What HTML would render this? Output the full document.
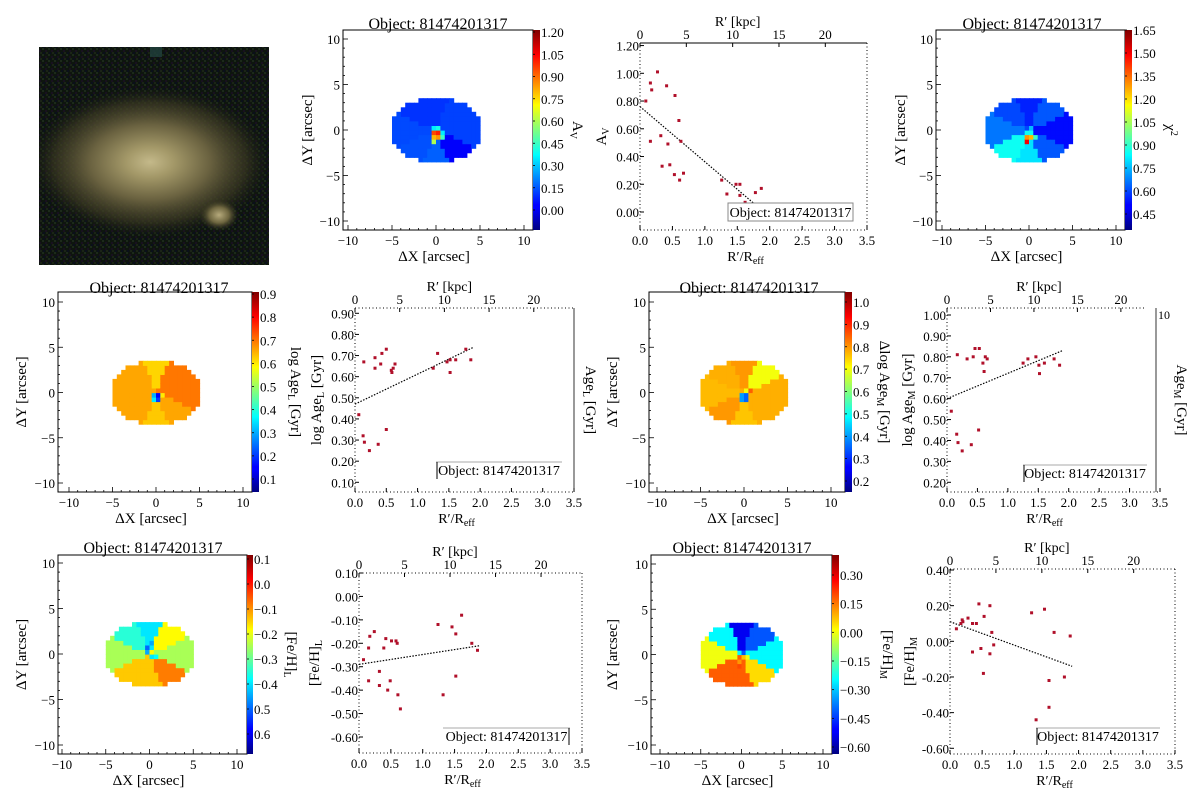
<!DOCTYPE html>
<html><head><meta charset="utf-8"><style>
html,body{margin:0;padding:0;background:#fff;}
svg{display:block;font-family:"Liberation Serif","DejaVu Serif",serif;}
</style></head><body>
<svg id="fig" width="1200" height="802" viewBox="0 0 1200 802" xmlns="http://www.w3.org/2000/svg">
<defs>
<linearGradient id="jet" x1="0" y1="1" x2="0" y2="0">
<stop offset="0" stop-color="#00007f"/><stop offset="0.11" stop-color="#0000ff"/><stop offset="0.125" stop-color="#0000ff"/><stop offset="0.34" stop-color="#00d8ff"/><stop offset="0.375" stop-color="#00ffff"/><stop offset="0.5" stop-color="#7fff7f"/><stop offset="0.625" stop-color="#ffff00"/><stop offset="0.66" stop-color="#ffd800"/><stop offset="0.875" stop-color="#ff0000"/><stop offset="1" stop-color="#7f0000"/>
</linearGradient>
<radialGradient id="gal" cx="0.5" cy="0.5" r="0.5">
<stop offset="0" stop-color="#c4b98a"/><stop offset="0.2" stop-color="#a39868"/><stop offset="0.5" stop-color="#6a6240"/><stop offset="0.8" stop-color="#3a3822" stop-opacity="0.7"/><stop offset="1" stop-color="#1c2014" stop-opacity="0"/>
</radialGradient>
<radialGradient id="gal2" cx="0.5" cy="0.5" r="0.5">
<stop offset="0" stop-color="#b6aa7c"/><stop offset="0.5" stop-color="#6d653f"/><stop offset="1" stop-color="#2a2a18" stop-opacity="0"/>
</radialGradient>
<pattern id="noise" width="6" height="6" patternUnits="userSpaceOnUse">
<rect width="6" height="6" fill="#0e150e"/><rect x="0" y="0" width="2" height="2" fill="#1c2a1a"/><rect x="3" y="2" width="2" height="2" fill="#181020"/><rect x="1" y="4" width="2" height="2" fill="#0a0f1c"/><rect x="4" y="4" width="2" height="2" fill="#1a2416"/>
</pattern>
<clipPath id="photoclip"><rect x="39" y="47" width="230" height="218"/></clipPath>
</defs>
<g clip-path="url(#photoclip)">
<rect x="39" y="47" width="230" height="218" fill="url(#noise)"/>
<ellipse cx="150" cy="162" rx="120" ry="75" fill="url(#gal)"/>
<ellipse cx="219" cy="215" rx="20" ry="16" fill="url(#gal2)"/>
<rect x="150" y="47" width="12" height="10" fill="#21403c" opacity="0.8"/>
</g>
</svg>
<script>
// ---------- data ----------
const mapAvSectors=[0.12,0.12,0.10,0.10,0.13,0.14,0.16,0.03];
const mapAvCenter=[[0,0,1.0],[-0.5,0,0.95],[0,-0.5,0.85],[-0.5,-0.5,0.8],[0.5,-0.5,0.45],[-0.5,-1,0.6],[0,0.5,0.4],[-0.5,0.5,0.35],[0.5,0,0.35]];
const mapChiSectors=[0.52,0.62,0.55,0.60,0.66,0.85,0.80,0.62];
const mapChiCenter=[[-0.5,-1,1.5],[-0.5,-0.5,1.3],[0,-0.5,1.25],[0.5,-0.5,0.9],[0,0,0.85],[0,0.5,0.75]];
const mapAgeLSectors=[0.70,0.70,0.62,0.66,0.66,0.66,0.63,0.66];
const mapAgeLCenter=[[0,0,0.15],[-0.5,0,0.3],[-0.5,-0.5,0.35],[0,-0.5,0.2],[0.5,0,0.6]];
const mapAgeMSectors=[0.78,0.70,0.80,0.78,0.77,0.80,0.76,0.78];
const mapAgeMCenter=[[0,0,0.35],[-0.5,0,0.4],[-0.5,-0.5,0.4],[0,-0.5,0.35],[0.5,0.5,0.85]];
const mapFeLSectors=[-0.25,-0.18,-0.40,-0.35,-0.25,-0.14,-0.14,-0.08];
const mapFeLCenter=[[0,0,-0.4],[-0.5,0.5,-0.45],[-0.5,1,-0.5],[0,1.5,-0.45],[0,2,-0.4],[0,2.5,-0.4],[0.5,0,-0.38]];
const mapFeMSectors=[-0.25,-0.42,-0.52,-0.25,0.0,0.18,0.18,0.05];
const mapFeMCenter=[[0,0,0.08],[-0.5,-0.5,0.12],[0,-1,0.18],[-0.5,-1,0.2],[0.5,0,0.0]];

const avR=[0.09,0.27,0.16,0.18,0.41,0.54,0.16,0.32,0.43,0.60,0.63,0.34,0.46,0.53,0.67,0.61,1.26,1.34,1.48,1.54,1.54,1.62,1.78,1.87];
const avV=[0.80,1.01,0.93,0.88,0.91,0.84,0.51,0.55,0.49,0.66,0.51,0.33,0.34,0.27,0.28,0.23,0.23,0.13,0.20,0.20,0.12,0.07,0.14,0.17];
const avFit=[[0,0.76],[1.76,0.06]];
const ageLR=[0.06,0.14,0.32,0.32,0.41,0.43,0.50,0.58,0.59,0.61,0.64,0.13,0.15,0.23,0.37,0.50,1.25,1.32,1.47,1.52,1.52,1.61,1.77,1.85];
const ageLV=[0.42,0.67,0.69,0.64,0.66,0.71,0.73,0.63,0.62,0.64,0.66,0.32,0.29,0.25,0.28,0.35,0.64,0.71,0.67,0.68,0.62,0.68,0.73,0.68];
const ageLFit=[[0,0.47],[1.9,0.74]];
const ageMR=[0.07,0.17,0.16,0.18,0.25,0.33,0.40,0.43,0.46,0.52,0.53,0.59,0.61,0.63,0.66,1.25,1.33,1.46,1.51,1.52,1.60,1.76,1.85];
const ageMV=[0.54,0.81,0.43,0.39,0.35,0.79,0.38,0.80,0.84,0.45,0.84,0.77,0.73,0.80,0.79,0.77,0.79,0.80,0.76,0.72,0.77,0.79,0.76];
const ageMFit=[[0,0.60],[1.9,0.83]];
const feLR=[0.07,0.15,0.15,0.17,0.24,0.32,0.32,0.39,0.42,0.45,0.49,0.51,0.58,0.60,0.61,0.65,1.24,1.32,1.46,1.52,1.52,1.61,1.77,1.86];
const feLV=[-0.27,-0.22,-0.36,-0.17,-0.15,-0.32,-0.38,-0.22,-0.18,-0.40,-0.36,-0.19,-0.19,-0.20,-0.42,-0.48,-0.12,-0.42,-0.13,-0.16,-0.34,-0.08,-0.20,-0.23];
const feLFit=[[0,-0.29],[1.9,-0.21]];
const feMR=[0.10,0.17,0.19,0.20,0.28,0.35,0.35,0.41,0.45,0.48,0.53,0.52,0.62,0.62,0.65,0.68,1.27,1.34,1.47,1.54,1.54,1.62,1.78,1.87];
const feMV=[0.07,0.10,0.12,0.11,0.13,0.10,-0.06,0.10,0.21,-0.04,0.14,-0.18,0.20,-0.07,0.05,-0.02,0.16,-0.44,0.18,-0.22,-0.37,0.05,-0.20,0.03];
const feMFit=[[0,0.11],[1.9,-0.14]];

const xTicks=[0,0.5,1,1.5,2,2.5,3,3.5];
const xTickLabels=["0.0","0.5","1.0","1.5","2.0","2.5","3.0","3.5"];
const kpcTicks=[0,5,10,15,20];
const kpcPerR=7.0;
const mapTicks=[-10,-5,0,5,10];
const mapTickLabels=["\u221210","\u22125","0","5","10"];
const avYTicks=[0,0.2,0.4,0.6,0.8,1.0,1.2];
const ageLYTicks=[0.1,0.2,0.3,0.4,0.5,0.6,0.7,0.8,0.9];
const ageMYTicks=[0.2,0.3,0.4,0.5,0.6,0.7,0.8,0.9,1.0];
const feLYTicks=[-0.6,-0.5,-0.4,-0.3,-0.2,-0.1,0.0,0.1];
const feMYTicks=[-0.6,-0.4,-0.2,0.0,0.2,0.4];
const cbAvTicks=[0,0.15,0.30,0.45,0.60,0.75,0.90,1.05,1.20];
const cbChiTicks=[0.45,0.60,0.75,0.90,1.05,1.20,1.35,1.50,1.65];
const cbAgeLTicks=[0.1,0.2,0.3,0.4,0.5,0.6,0.7,0.8,0.9];
const cbAgeMTicks=[0.2,0.3,0.4,0.5,0.6,0.7,0.8,0.9,1.0];
const cbFeLTicks=[0.1,0.0,-0.1,-0.2,-0.3,-0.4,-0.5,-0.6];
const cbFeLLabels=["0.1","0.0","\u22120.1","\u22120.2","\u22120.3","\u22120.4","0.5","0.6"];
const cbFeMTicks=[0.30,0.15,0.0,-0.15,-0.30,-0.45,-0.60];

// ---------- helpers ----------
const NS="http://www.w3.org/2000/svg";
const svg=document.getElementById('fig');
function mk(tag,attrs,parent){const e=document.createElementNS(NS,tag);for(const k in attrs)e.setAttribute(k,attrs[k]);(parent||svg).appendChild(e);return e;}
function txt(s,x,y,size,anchor,parent,rot){const t=mk('text',{x:x,y:y,'font-size':size,'text-anchor':anchor||'middle',fill:'#000'},parent);if(rot!==undefined)t.setAttribute('transform','rotate('+rot+' '+x+' '+y+')');t.innerHTML=s;return t;}
function jet(t){t=Math.max(0,Math.min(1,t));const c=v=>Math.round(255*Math.max(0,Math.min(1,v)));return 'rgb('+c(1.5-Math.abs(4*t-3))+','+c(1.5-Math.abs(4*t-2))+','+c(1.5-Math.abs(4*t-1))+')';}
function lin(v1,p1,v2,p2){return v=>p1+(v-v1)*(p2-p1)/(v2-v1);}
function fmt(v,d){const s=Math.abs(v).toFixed(d);return (v<-1e-9?'\u2212':'')+s;}

function drawMap(o){
  const g=mk('g',{});
  
  
  const sx=lin(-10,o.xm10,10,o.xp10), sy=lin(10,o.yp10,-10,o.ym10);
  const cv=lin(o.cv1,o.cy1,o.cv2,o.cy2);
  const vmin=o.cv1+(o.cb[3]-o.cy1)*(o.cv2-o.cv1)/(o.cy2-o.cy1);
  const vmax=o.cv1+(o.cb[2]-o.cy1)*(o.cv2-o.cv1)/(o.cy2-o.cy1);
  const col=v=>jet((v-vmin)/(vmax-vmin));
  const a=5.2,b=3.6,step=0.5;
  const pw=Math.abs(sx(step)-sx(0))+0.6, ph=Math.abs(sy(step)-sy(0))+0.6;
  const cen={};o.center.forEach(c=>{cen[c[0]+','+c[1]]=c[2];});
  for(let x=-5.5;x<=5.5;x+=step){for(let y=-4;y<=4;y+=step){
    const xc=x+step/2,yc=y-step/2;
    if((xc/a)**2+(yc/b)**2>1)continue;
    let ang=Math.atan2(yc,xc);if(ang<0)ang+=2*Math.PI;
    const si=Math.floor((ang+Math.PI/8)/(Math.PI/4))%8;
    let v=o.sectors[si];const k=x+','+y;if(cen[k]!==undefined)v=cen[k];
    const px=mk('rect',{x:sx(x).toFixed(1),y:sy(y).toFixed(1),width:pw.toFixed(1),height:ph.toFixed(1),fill:col(v)},g);
    
    
  }}
  const [bx1,bx2,by1,by2]=o.box;
  const fr=mk('rect',{x:bx1,y:by1,width:bx2-bx1,height:by2-by1,fill:'none',stroke:'#000','stroke-width':1},g);
  
  
  for(let v=-10;v<=10;v+=1){const L=(v%5===0)?5:2;
    mk('line',{x1:sx(v),x2:sx(v),y1:by2,y2:by2-L,stroke:'#000','stroke-width':0.8},g);
    mk('line',{x1:bx1,x2:bx1+L,y1:sy(v),y2:sy(v),stroke:'#000','stroke-width':0.8},g);}
  mapTicks.forEach((v,i)=>{txt(mapTickLabels[i],sx(v),by2+15,13,'middle',g);txt(mapTickLabels[i],bx1-3,sy(v)+5,13,'end',g);});
  const xl=txt('\u0394X [arcsec]',(bx1+bx2)/2-4,by2+31,15,'middle',g);
  
  
  const yl=txt('\u0394Y [arcsec]',o.ylx,(by1+by2)/2,15,'middle',g,-90);
  
  
  const tt=txt('Object: 81474201317',o.tx,o.ty,16,'middle',g);
  
  
  const [cx1,cx2,cy1,cy2]=o.cb;
  const cbr=mk('rect',{x:cx1,y:cy1,width:cx2-cx1,height:cy2-cy1,fill:'url(#jet)'},g);
  
  
  o.cbTicks.forEach((v,i)=>{const y=cv(v);mk('line',{x1:cx1,x2:cx1+2,y1:y,y2:y,stroke:'#000','stroke-width':0.8},g);
    txt(o.cbLabels?o.cbLabels[i]:fmt(v,o.cbDec),cx2+1,y+5,13,'start',g);});
  const cl=txt(o.cbTitle,o.cbtx,(cy1+cy2)/2,15,'middle',g,90);
  
  
}

function drawScatter(o){
  const g=mk('g',{});
  
  
  const sx=lin(0,o.x0,3.5,o.x35), sy=lin(o.v1,o.y1,o.v2,o.y2);
  const [bx1,bx2,by1,by2]=o.box;
  const dot={stroke:'#000','stroke-width':1,'stroke-dasharray':'1,2.5'};
  mk('line',Object.assign({x1:bx1,x2:bx1,y1:by1,y2:by2},dot),g);
  mk('line',Object.assign({x1:bx1,x2:bx2,y1:by2,y2:by2},dot),g);
  mk('line',Object.assign({x1:bx1,x2:o.topEnd||bx2,y1:by1,y2:by1},o.topSolid?{stroke:'#000','stroke-width':1}:dot),g);
  mk('line',Object.assign({x1:o.rightX||bx2,x2:o.rightX||bx2,y1:by1,y2:by2},o.rightSolid?{stroke:'#000','stroke-width':0.8}:dot),g);
  xTicks.forEach((v,i)=>{mk('line',{x1:sx(v),x2:sx(v),y1:by2,y2:by2-4,stroke:'#000'},g);txt(xTickLabels[i],sx(v),by2+15,13,'middle',g);});
  kpcTicks.forEach(v=>{const x=sx(v/kpcPerR);mk('line',{x1:x,x2:x,y1:by1,y2:by1+4,stroke:'#000'},g);txt(String(v),x,by1-4,13,'middle',g);});
  o.yTicks.forEach(v=>{const y=sy(v);mk('line',{x1:bx1,x2:bx1+4,y1:y,y2:y,stroke:'#000'},g);txt(fmt(v,2).replace('\u2212','-'),bx1-1,y+5,13,'end',g);});
  const xt=txt('R\u2032/R<tspan font-size="10" dy="3">eff</tspan>',(bx1+bx2)/2-8,by2+31,14,'middle',g);
  
  
  const kt=txt('R\u2032 [kpc]',sx(10/kpcPerR)+5,by1-17,14,'middle',g);
  
  
  const yt=txt(o.ytitle,o.ytx,(by1+by2)/2,15,'middle',g,-90);
  
  
  if(o.rtitle){const rt=txt(o.rtitle,o.rtx,(by1+by2)/2,15,'middle',g,90);
    
    }
  if(o.rlabel){txt(o.rlabel,o.rightX+2,by1+11,12,'start',g);}
  const fl=mk('line',{x1:sx(o.fit[0][0]),y1:sy(o.fit[0][1]),x2:sx(o.fit[1][0]),y2:sy(o.fit[1][1]),stroke:'#000','stroke-width':1.2,'stroke-dasharray':'1.5,1.5'},g);
  
  
  o.R.forEach((r,i)=>{const p=mk('rect',{x:(sx(r)-1.5).toFixed(1),y:(sy(o.V[i])-1.5).toFixed(1),width:3,height:3,fill:'#b0102a'},g);
    
    });
  const [lx1,lx2,ly1,ly2]=o.leg;
  const lg=mk('g',{},g);
  
  
  if(o.legFull){mk('rect',{x:lx1,y:ly1,width:lx2-lx1,height:ly2-ly1,fill:'#fff',stroke:'#888','stroke-width':1},lg);}
  else{mk('line',{x1:lx1,x2:lx2,y1:ly1,y2:ly1,stroke:'#aaa'},lg);mk('line',{x1:o.legBar,x2:o.legBar,y1:ly1,y2:ly2,stroke:'#000'},lg);}
  txt('Object: 81474201317',(lx1+lx2)/2,ly2-4,14,'middle',lg);
}

// ---------- maps ----------
drawMap({name:'av-map',box:[343,533,30,230],xm10:348,xp10:524,yp10:39,ym10:221,cb:[533,540,30,230],cv1:1.2,cy1:32,cv2:0,cy2:210,cbTicks:cbAvTicks,cbDec:2,cbTitle:'A<tspan font-size="10" dy="3">V</tspan>',cbtx:573,sectors:mapAvSectors,center:mapAvCenter,ylx:312,tx:438,ty:29});
drawMap({name:'chi2-map',box:[936,1125,30,230],xm10:942,xp10:1116,yp10:39,ym10:221,cb:[1125,1132,30,230],cv1:1.65,cy1:30,cv2:0.45,cy2:214,cbTicks:cbChiTicks,cbDec:2,cbTitle:'\u03C7<tspan font-size="10" dy="-5">2</tspan>',cbtx:1166,sectors:mapChiSectors,center:mapChiCenter,ylx:905,tx:1032,ty:29});
drawMap({name:'age-l-map',box:[58,252,292,492],xm10:69,xp10:243,yp10:302,ym10:483,cb:[252,259,292,492],cv1:0.9,cy1:294,cv2:0.1,cy2:479,cbTicks:cbAgeLTicks,cbDec:1,cbTitle:'log Age<tspan font-size="10" dy="3">L</tspan><tspan dy="-3"> [Gyr]</tspan>',cbtx:291,sectors:mapAgeLSectors,center:mapAgeLCenter,ylx:26,tx:159,ty:293});
drawMap({name:'age-m-map',box:[649,845,292,492],xm10:657,xp10:831,yp10:302,ym10:483,cb:[845,852,292,492],cv1:1.0,cy1:302,cv2:0.2,cy2:481,cbTicks:cbAgeMTicks,cbDec:1,cbTitle:'\u0394log Age<tspan font-size="10" dy="3">M</tspan><tspan dy="-3"> [Gyr]</tspan>',cbtx:880,sectors:mapAgeMSectors,center:mapAgeMCenter,ylx:617,tx:749,ty:293});
drawMap({name:'feh-l-map',box:[58,247,555,754],xm10:62,xp10:237,yp10:563,ym10:745,cb:[247,253,555,754],cv1:0.1,cy1:559,cv2:-0.6,cy2:734,cbTicks:cbFeLTicks,cbLabels:cbFeLLabels,cbTitle:'[Fe/H]<tspan font-size="10" dy="3">L</tspan>',cbtx:287,sectors:mapFeLSectors,center:mapFeLCenter,ylx:26,tx:153,ty:553});
drawMap({name:'feh-m-map',box:[651,832,555,754],xm10:660,xp10:823,yp10:564,ym10:745,cb:[832,839,555,754],cv1:0.3,cy1:575,cv2:-0.6,cy2:747,cbTicks:cbFeMTicks,cbDec:2,cbTitle:'[Fe/H]<tspan font-size="10" dy="3">M</tspan>',cbtx:883,sectors:mapFeMSectors,center:mapFeMCenter,ylx:617,tx:742,ty:553});

// ---------- scatter ----------
drawScatter({name:'av-profile',box:[640,867,43,230],x0:640,x35:867,v1:1.0,y1:73.3,v2:0,y2:212,yTicks:avYTicks,R:avR,V:avV,fit:avFit,ytitle:'A<tspan font-size="10" dy="3">V</tspan>',ytx:606,leg:[728,853,203,221],legFull:true,topSolid:true});
drawScatter({name:'age-l-profile',box:[355,574,308,492],x0:355,x35:574,v1:0.9,y1:313.3,v2:0.1,y2:482.3,yTicks:ageLYTicks,R:ageLR,V:ageLV,fit:ageLFit,ytitle:'log Age<tspan font-size="10" dy="3">L</tspan><tspan dy="-3"> [Gyr]</tspan>',ytx:321,rtitle:'Age<tspan font-size="10" dy="3">L</tspan><tspan dy="-3"> [Gyr]</tspan>',rtx:586,rightSolid:true,leg:[436,562,462,479],legBar:437});
drawScatter({name:'age-m-profile',box:[947,1158,308,492],x0:947,x35:1160,v1:1.0,y1:315,v2:0.2,y2:482.3,yTicks:ageMYTicks,R:ageMR,V:ageMV,fit:ageMFit,ytitle:'log Age<tspan font-size="10" dy="3">M</tspan><tspan dy="-3"> [Gyr]</tspan>',ytx:912,rtitle:'Age<tspan font-size="10" dy="3">M</tspan><tspan dy="-3"> [Gyr]</tspan>',rtx:1177,rightX:1156,topEnd:1144,rightSolid:true,rlabel:'10',leg:[1023,1147,465,482],legBar:1024});
drawScatter({name:'feh-l-profile',box:[359,582,573,753],x0:359,x35:582,v1:0.1,y1:573,v2:-0.6,y2:737,yTicks:feLYTicks,R:feLR,V:feLV,fit:feLFit,ytitle:'[Fe/H]<tspan font-size="10" dy="3">L</tspan>',ytx:319,leg:[443,570,728,745],legBar:569});
drawScatter({name:'feh-m-profile',box:[950,1175,569,754],x0:950,x35:1175,v1:0.4,y1:570,v2:-0.6,y2:748.3,yTicks:feMYTicks,R:feMR,V:feMV,fit:feMFit,ytitle:'[Fe/H]<tspan font-size="10" dy="3">M</tspan>',ytx:914,leg:[1036,1160,728,745],legBar:1037});
</script>
</body></html>
